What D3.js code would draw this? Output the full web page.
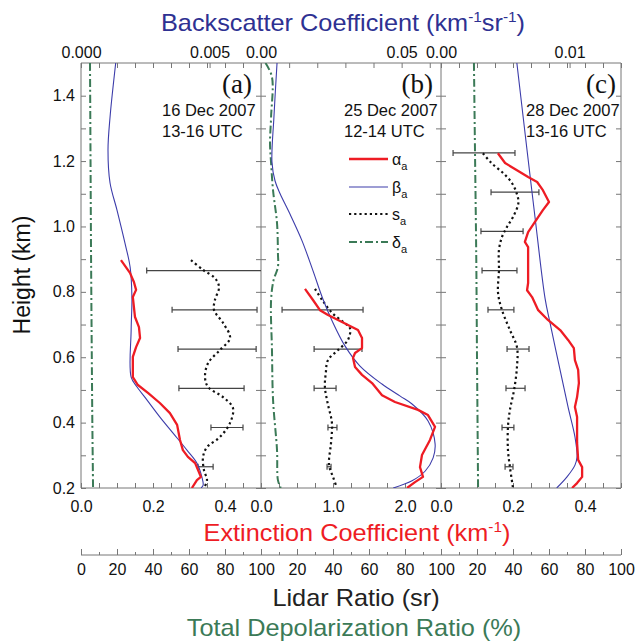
<!DOCTYPE html>
<html>
<head>
<meta charset="utf-8">
<script src="https://cdn.jsdelivr.net/npm/d3@7"></script>
<style>
body { margin: 0; background: #fff; }
text { font-family: Arial, "Liberation Sans", sans-serif; }
</style>
</head>
<body>
<svg id="chart" width="636" height="642"></svg>
<script>
// ---- data: [height km, value] ----
var extA = [[0.897,0.111],[0.858,0.136],[0.830,0.147],[0.806,0.153],[0.784,0.144],[0.723,0.150],[0.692,0.161],[0.659,0.164],[0.631,0.153],[0.601,0.144],[0.539,0.144],[0.515,0.158],[0.491,0.186],[0.460,0.219],[0.429,0.247],[0.393,0.267],[0.347,0.275],[0.316,0.283],[0.295,0.297],[0.276,0.317],[0.234,0.333],[0.224,0.322],[0.200,0.308]];
var backA = [[1.5,0.00135],[1.335,0.00113],[1.234,0.00105],[1.133,0.00113],[1.05,0.0014],[0.949,0.00171],[0.876,0.00191],[0.784,0.00198],[0.683,0.00195],[0.539,0.00195],[0.509,0.00218],[0.469,0.00257],[0.417,0.00307],[0.368,0.00358],[0.316,0.00412],[0.276,0.00451],[0.234,0.0047],[0.209,0.00475],[0.2,0.00467]];
var lidarA = [[0.897,61.1],[0.867,67.8],[0.842,74.4],[0.815,76.7],[0.775,74.4],[0.744,73.9],[0.705,78.9],[0.659,82.8],[0.622,77.2],[0.582,70.6],[0.539,68.9],[0.509,70.6],[0.478,78.9],[0.445,84.4],[0.399,82.8],[0.356,77.2],[0.325,70],[0.295,67.8],[0.255,68.3],[0.224,70],[0.2,68.3]];
var errA = [[0.865,68.5,32],[0.745,74.2,23.6],[0.625,75.6,21.7],[0.505,72.5,18.1],[0.385,81.1,8.9],[0.265,69.2,4.2]]; // height, centre, half width
var depolA = [[1.5,5.0],[1.2,5.3],[0.9,5.6],[0.6,6.0],[0.4,6.3],[0.2,6.7]];

var extB = [[0.809,0.611],[0.775,0.722],[0.744,0.819],[0.729,0.931],[0.708,1.125],[0.683,1.347],[0.659,1.403],[0.628,1.403],[0.613,1.306],[0.598,1.278],[0.57,1.306],[0.546,1.403],[0.521,1.542],[0.484,1.681],[0.463,1.861],[0.439,2.181],[0.423,2.319],[0.387,2.417],[0.347,2.347],[0.301,2.236],[0.264,2.208],[0.234,2.25],[0.218,2.139],[0.2,2.028]];
var backB = [[1.5,0.0057],[1.335,0.0046],[1.197,0.0039],[1.139,0.005],[1.1,0.0068],[1.038,0.0103],[0.956,0.0146],[0.864,0.0185],[0.778,0.022],[0.711,0.0253],[0.634,0.0299],[0.573,0.0352],[0.518,0.043],[0.481,0.0495],[0.457,0.0537],[0.405,0.0594],[0.335,0.0619],[0.292,0.0612],[0.252,0.0584],[0.222,0.0537],[0.2,0.047]];
var lidarB = [[0.809,30],[0.775,34],[0.735,39.6],[0.708,45.6],[0.689,49.4],[0.653,48.3],[0.622,42.8],[0.591,37.2],[0.552,36],[0.509,35.5],[0.46,37],[0.399,39.4],[0.338,38.9],[0.27,37.8],[0.234,40],[0.203,42]];
var errB = [[0.745,34.2,22.5],[0.625,42.8,13.3],[0.505,35.6,6.1],[0.385,39.7,2.5],[0.265,37.8,1.1]];
var depolB = [[1.5,2.5],[1.457,6.1],[1.335,5.6],[1.255,5],[1.194,5.6],[1.11,6.7],[1.01,8.9],[0.919,9.4],[0.876,9.4],[0.836,7.0],[0.775,5.6],[0.622,6.1],[0.469,6.7],[0.316,8.9],[0.224,9.4],[0.2,11]];

var extC = [[1.224,0.158],[1.194,0.178],[1.172,0.211],[1.151,0.242],[1.136,0.267],[1.111,0.283],[1.075,0.3],[1.05,0.283],[1.014,0.261],[0.983,0.242],[0.953,0.233],[0.937,0.242],[0.876,0.242],[0.827,0.242],[0.805,0.239],[0.784,0.253],[0.744,0.27],[0.714,0.297],[0.683,0.331],[0.653,0.353],[0.628,0.369],[0.591,0.372],[0.561,0.381],[0.521,0.383],[0.478,0.378],[0.448,0.372],[0.417,0.378],[0.338,0.378],[0.286,0.381],[0.264,0.392],[0.234,0.392],[0.215,0.378],[0.2,0.364]];
var backC = [[1.5,0.0059],[1.234,0.00669],[1.029,0.00731],[0.781,0.00809],[0.705,0.00848],[0.561,0.00926],[0.448,0.00988],[0.356,0.01042],[0.295,0.01058],[0.27,0.01042],[0.234,0.0098],[0.2,0.009]];
var lidarC = [[1.224,23.3],[1.194,28],[1.163,34.6],[1.133,39.4],[1.102,42],[1.072,43],[1.029,40],[0.998,36.6],[0.968,33.9],[0.928,32.2],[0.867,32.2],[0.796,31.7],[0.744,33.9],[0.683,38.3],[0.631,42.2],[0.57,42.2],[0.5,40.6],[0.439,38.3],[0.387,37.2],[0.316,37.2],[0.264,38.3],[0.2,40]];
var errC = [[1.225,23.9,17.2],[1.105,41.1,13.3],[0.985,33.9,11.7],[0.865,32.5,9.7],[0.745,33.3,7.2],[0.625,42.8,6.1],[0.505,41.4,5.3],[0.385,37.2,3.3],[0.265,37.8,2.2]];
var depolC = [[1.5,18.3],[1.224,18.9],[0.9,19.6],[0.6,20],[0.4,20.3],[0.2,20.6]];

// axis ranges and labels per panel
var extMax = [0.5, 2.5, 0.5];
var backMax = [0.007, 0.064, 0.014];
var backStep = [0.0007, 0.01, 0.0014];
var backLabels = [[0, 0.005], [0, 0.05], [0, 0.01]];
var backFmt = [".3f", ".2f", ".2f"];
var extStep = [0.05, 0.25, 0.05];
var extLabels = [[0, 0.2, 0.4], [0, 1, 2], [0, 0.2, 0.4]];
var pctLabels = [[0, 20, 40, 60, 80, 100], [20, 40, 60, 80, 100], [20, 40, 60, 80, 100]];
var tags = ["(a)", "(b)", "(c)"];
var dates = ["16 Dec 2007", "25 Dec 2007", "28 Dec 2007"];
var times = ["13-16 UTC", "12-14 UTC", "13-16 UTC"];
var heightTicks = [0.2, 0.4, 0.6, 0.8, 1.0, 1.2, 1.4];

var panels = [
	{ext: extA, back: backA, lidar: lidarA, err: errA, depol: depolA},
	{ext: extB, back: backB, lidar: lidarB, err: errB, depol: depolB},
	{ext: extC, back: backC, lidar: lidarC, err: errC, depol: depolC}
];

// ---- layout ----
var svg = d3.select("#chart");
var plotTop = 63, plotBottom = 488, lidarAxisY = 555;
var panelLeft = [81, 261, 441];
var panelW = 180;
var frameColor = "#777";

var RED = "#ee1c24", BLUE = "#3c3caa", GREEN = "#3b7a57", TITLEBLUE = "#2e3192";

var y = d3.scaleLinear().domain([0.2, 1.5]).range([plotBottom, plotTop]);

function styleAxis(g) {
	g.select(".domain").remove();
	g.selectAll(".tick line").attr("stroke", frameColor);
	g.selectAll("text").attr("font-size", 16).attr("font-family", "Arial, 'Liberation Sans', sans-serif").attr("fill", "#111");
}

function near(list, d) {
	return list.some(function(v) { return Math.abs(v - d) < 1e-9; });
}

// ticks at a regular step plus the labelled values, without duplicates
function tickList(max, step, labels) {
	var t = d3.range(0, max + 1e-9, step);
	labels.forEach(function(v) { if (!near(t, v)) t.push(v); });
	return t;
}

function drawPanel(i) {
	var p = panels[i];
	var x0 = panelLeft[i];
	var ext = d3.scaleLinear().domain([0, extMax[i]]).range([x0, x0 + panelW]);
	var back = d3.scaleLinear().domain([0, backMax[i]]).range([x0, x0 + panelW]);
	var pct = d3.scaleLinear().domain([0, 100]).range([x0, x0 + panelW]);

	// top axis: backscatter
	svg.append("g").attr("transform", "translate(0," + plotTop + ")")
		.call(d3.axisTop(back).tickValues(tickList(backMax[i], backStep[i], backLabels[i]))
			.tickSizeInner(-5).tickSizeOuter(0).tickPadding(5)
			.tickFormat(function(d) { return near(backLabels[i], d) ? d3.format(backFmt[i])(d) : ""; }))
		.call(styleAxis);

	// bottom axis: extinction
	svg.append("g").attr("transform", "translate(0," + plotBottom + ")")
		.call(d3.axisBottom(ext).tickValues(tickList(extMax[i], extStep[i], extLabels[i]))
			.tickSizeInner(-5).tickSizeOuter(0).tickPadding(13)
			.tickFormat(function(d) { return near(extLabels[i], d) ? d3.format(".1f")(d) : ""; }))
		.call(styleAxis);

	// lidar ratio / depolarization axis
	svg.append("g").attr("transform", "translate(0," + lidarAxisY + ")")
		.call(d3.axisBottom(pct).tickValues(d3.range(10, 100, 20)).tickSizeInner(-3).tickSizeOuter(0).tickFormat(""))
		.call(styleAxis);
	svg.append("g").attr("transform", "translate(0," + lidarAxisY + ")")
		.call(d3.axisBottom(pct).tickValues(d3.range(0, 101, 20)).tickSizeInner(-6).tickSizeOuter(0).tickPadding(9)
			.tickFormat(function(d) { return pctLabels[i].indexOf(d) >= 0 ? d : ""; }))
		.call(styleAxis);

	// clip
	svg.append("clipPath").attr("id", "clip" + i)
		.append("rect").attr("x", x0).attr("y", plotTop).attr("width", panelW).attr("height", plotBottom - plotTop);
	var g = svg.append("g").attr("clip-path", "url(#clip" + i + ")");

	var smooth = d3.curveCatmullRom.alpha(0.5);

	g.append("path").datum(p.depol)
		.attr("d", d3.line().x(function(d) { return pct(d[1]); }).y(function(d) { return y(d[0]); }).curve(smooth))
		.attr("fill", "none").attr("stroke", GREEN).attr("stroke-width", 2)
		.attr("stroke-dasharray", "8,3,2,3");

	var eb = g.selectAll(".err").data(p.err).enter().append("g").attr("class", "err")
		.attr("stroke", "#444").attr("stroke-width", 1.2);
	eb.append("line")
		.attr("x1", function(d) { return pct(d[1] - d[2]); })
		.attr("x2", function(d) { return pct(d[1] + d[2]); })
		.attr("y1", function(d) { return y(d[0]); })
		.attr("y2", function(d) { return y(d[0]); });
	[-1, 1].forEach(function(s) {
		eb.append("line")
			.attr("x1", function(d) { return pct(d[1] + s * d[2]); })
			.attr("x2", function(d) { return pct(d[1] + s * d[2]); })
			.attr("y1", function(d) { return y(d[0]) - 3; })
			.attr("y2", function(d) { return y(d[0]) + 3; });
	});

	g.append("path").datum(p.lidar)
		.attr("d", d3.line().x(function(d) { return pct(d[1]); }).y(function(d) { return y(d[0]); }).curve(smooth))
		.attr("fill", "none").attr("stroke", "#111").attr("stroke-width", 2.2)
		.attr("stroke-dasharray", "2.2,3");

	g.append("path").datum(p.back)
		.attr("d", d3.line().x(function(d) { return back(d[1]); }).y(function(d) { return y(d[0]); }).curve(smooth))
		.attr("fill", "none").attr("stroke", BLUE).attr("stroke-width", 1.1);

	g.append("path").datum(p.ext)
		.attr("d", d3.line().x(function(d) { return ext(d[1]); }).y(function(d) { return y(d[0]); }))
		.attr("fill", "none").attr("stroke", RED).attr("stroke-width", 2.3).attr("stroke-linejoin", "round");

	// annotations
	svg.append("text").attr("x", x0 + panelW - [9, 8, 5][i]).attr("y", 93)
		.attr("text-anchor", "end").attr("font-size", 27)
		.style("font-family", "'Liberation Serif', 'DejaVu Serif', serif").attr("fill", "#111")
		.text(tags[i]);
	svg.append("text").attr("x", x0 + [81, 83, 85][i]).attr("y", 116)
		.attr("font-size", 16.5).attr("fill", "#111").text(dates[i]);
	svg.append("text").attr("x", x0 + [81, 83, 85][i]).attr("y", 137)
		.attr("font-size", 16.5).attr("fill", "#111").text(times[i]);
}

// frame
var right = panelLeft[2] + panelW;
svg.append("g").attr("stroke", frameColor).attr("stroke-width", 1).attr("fill", "none")
	.selectAll("line")
	.data([[panelLeft[0], plotTop, right, plotTop], [panelLeft[0], plotBottom, right, plotBottom],
		[panelLeft[0], lidarAxisY, right, lidarAxisY]]
		.concat(panelLeft.concat([right]).map(function(x) { return [x, plotTop, x, plotBottom]; })))
	.enter().append("line")
	.attr("x1", function(d) { return d[0]; }).attr("y1", function(d) { return d[1]; })
	.attr("x2", function(d) { return d[2]; }).attr("y2", function(d) { return d[3]; });

// height ticks on every panel edge
var hMinor = d3.range(0.3, 1.5, 0.2);
panelLeft.concat([right]).forEach(function(x, k) {
	var ticks = heightTicks.concat(hMinor);
	if (k < 3) {
		svg.append("g").attr("transform", "translate(" + x + ",0)")
			.call(d3.axisRight(y).tickValues(ticks).tickSizeInner(5).tickSizeOuter(0).tickFormat(""))
			.call(styleAxis);
	}
	if (k > 0) {
		svg.append("g").attr("transform", "translate(" + x + ",0)")
			.call(d3.axisLeft(y).tickValues(ticks).tickSizeInner(5).tickSizeOuter(0).tickFormat(""))
			.call(styleAxis);
	}
});
svg.append("g").attr("transform", "translate(" + panelLeft[0] + ",0)")
	.call(d3.axisLeft(y).tickValues(heightTicks).tickSize(0).tickPadding(6).tickFormat(d3.format(".1f")))
	.call(styleAxis);

panels.forEach(function(p, i) { drawPanel(i); });

// legend in panel (b)
var legendRows = [
	{sym: "\u03b1", color: RED, width: 2.3, dash: null, y: 159},
	{sym: "\u03b2", color: BLUE, width: 1.1, dash: null, y: 187},
	{sym: "s", color: "#111", width: 2.2, dash: "2.2,3", y: 214},
	{sym: "\u03b4", color: GREEN, width: 2, dash: "8,3,2,3", y: 242}
];
var lg = svg.append("g");
legendRows.forEach(function(r) {
	lg.append("line").attr("x1", 349).attr("x2", 388).attr("y1", r.y).attr("y2", r.y)
		.attr("stroke", r.color).attr("stroke-width", r.width).attr("stroke-dasharray", r.dash);
	var t = lg.append("text").attr("x", 392).attr("y", r.y + 6).attr("font-size", 16).attr("fill", "#111");
	t.append("tspan").text(r.sym);
	t.append("tspan").attr("font-size", 11).attr("dy", 5).text("a");
});

// titles (the figure's lettering is slightly wide, so stretch it a little)
function title(x, yb, color, parts) {
	var t = svg.append("g").attr("transform", "translate(" + x + "," + yb + ") scale(1.1,1)")
		.append("text").attr("text-anchor", "middle").attr("font-size", 23).attr("fill", color);
	var shift = 0;
	parts.forEach(function(s) {
		if (s.sup) {
			t.append("tspan").attr("font-size", 14).attr("dy", -9 - shift).text(s.sup);
			shift = -9;
		} else {
			t.append("tspan").attr("dy", -shift).text(s.txt);
			shift = 0;
		}
	});
}
title(343, 31, TITLEBLUE, [{txt: "Backscatter Coefficient (km"}, {sup: "-1"}, {txt: "sr"}, {sup: "-1"}, {txt: ")"}]);
title(357, 541, RED, [{txt: "Extinction Coefficient (km"}, {sup: "-1"}, {txt: ")"}]);
title(356, 606, "#222", [{txt: "Lidar Ratio (sr)"}]);
title(354, 636, GREEN, [{txt: "Total Depolarization Ratio (%)"}]);

svg.append("text").attr("transform", "translate(30,275) rotate(-90)")
	.attr("text-anchor", "middle").attr("font-size", 23).attr("fill", "#111")
	.text("Height (km)");
</script>
</body>
</html>
